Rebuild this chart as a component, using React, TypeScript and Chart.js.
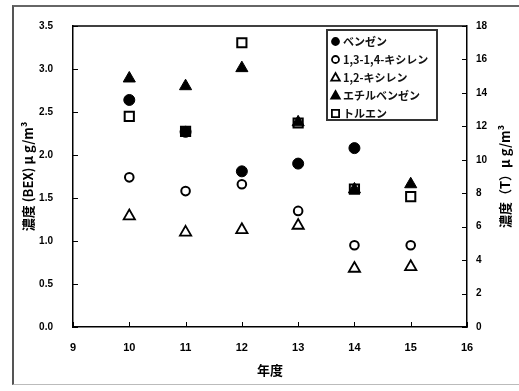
import React, { useEffect, useRef } from "react";
import { Chart, registerables } from "chart.js";

Chart.register(...registerables);

const years = [10, 11, 12, 13, 14, 15];
const benzene = [2.64, 2.27, 1.81, 1.9, 2.08, null];
const xylene1314 = [1.74, 1.58, 1.66, 1.35, 0.95, 0.95];
const xylene12 = [1.29, 1.1, 1.13, 1.18, 0.68, 0.7];
const ethylbenzene = [2.89, 2.8, 3.01, 2.38, 1.6, 1.66];
const toluene = [12.6, 11.7, 17.0, 12.2, 8.25, 7.8];

const leftTicks = [0, 0.5, 1, 1.5, 2, 2.5, 3, 3.5];
const rightTicks = [0, 2, 4, 6, 8, 10, 12, 14, 16, 18];
const xTicks = [9, 10, 11, 12, 13, 14, 15, 16];

const legendLabels = ["ベンゼン", "1,3-1,4-キシレン", "1,2-キシレン", "エチルベンゼン", "トルエン"];

const JP = '"Noto Sans CJK JP", "Liberation Sans", sans-serif';
const NUM = '"Liberation Sans", Arial, sans-serif';

function pts(vals: (number | null)[]) {
  return years.map((x, i) => ({ x, y: vals[i] as any }));
}

function drawSymbol(ctx: CanvasRenderingContext2D, style: string, filled: boolean, x: number, y: number, r: number) {
  ctx.save();
  ctx.beginPath();
  if (style === "circle") {
    ctx.arc(x, y, r, 0, Math.PI * 2);
  } else if (style === "triangle") {
    ctx.moveTo(x, y - r);
    ctx.lineTo(x + r * 0.95, y + r * 0.7);
    ctx.lineTo(x - r * 0.95, y + r * 0.7);
    ctx.closePath();
  } else {
    ctx.rect(x - r * 0.8, y - r * 0.8, r * 1.6, r * 1.6);
  }
  ctx.fillStyle = filled ? "#000" : "#fff";
  ctx.fill();
  ctx.lineWidth = 1.8;
  ctx.strokeStyle = "#000";
  ctx.stroke();
  ctx.restore();
}

const framePlugin = {
  id: "framePlugin",
  afterDraw(chart: any) {
    const ctx = chart.ctx as CanvasRenderingContext2D;
    const { left, right, top, bottom } = chart.chartArea;
    const xs = chart.scales.x;
    const yl = chart.scales.y;
    const yr = chart.scales.y2;
    ctx.save();
    ctx.strokeStyle = "#000";
    ctx.lineWidth = 1.5;
    ctx.beginPath();
    ctx.moveTo(left, top);
    ctx.lineTo(right, top);
    ctx.stroke();
    ctx.lineWidth = 1;
    ctx.beginPath();
    for (const v of leftTicks) {
      const p = Math.round(yl.getPixelForValue(v)) + 0.5;
      ctx.moveTo(left, p);
      ctx.lineTo(left + 5, p);
    }
    for (const v of rightTicks) {
      const p = Math.round(yr.getPixelForValue(v)) + 0.5;
      ctx.moveTo(right, p);
      ctx.lineTo(right - 5, p);
    }
    for (const v of xTicks) {
      const p = Math.round(xs.getPixelForValue(v)) + 0.5;
      ctx.moveTo(p, bottom);
      ctx.lineTo(p, bottom - 5);
    }
    ctx.stroke();

    // right axis title, reading bottom to top
    ctx.save();
    ctx.translate(505, (top + bottom) / 2);
    ctx.rotate(-Math.PI / 2);
    ctx.fillStyle = "#000";
    ctx.font = `bold 13px ${JP}`;
    ctx.textAlign = "center";
    ctx.textBaseline = "middle";
    ctx.fillText("濃度（T）μ g/m³", 0, 0);
    ctx.restore();

    // legend
    const bx = 327, by = 30, bw = 110, bh = 90;
    ctx.fillStyle = "#fff";
    ctx.fillRect(bx, by, bw, bh);
    ctx.lineWidth = 2;
    ctx.strokeStyle = "#333";
    ctx.strokeRect(bx, by, bw, bh);
    const styles = [
      ["circle", true],
      ["circle", false],
      ["triangle", false],
      ["triangle", true],
      ["rect", false],
    ] as [string, boolean][];
    ctx.font = `bold 11px ${JP}`;
    ctx.textAlign = "left";
    ctx.textBaseline = "middle";
    legendLabels.forEach((lab, i) => {
      const cy = 41.5 + i * 18;
      drawSymbol(ctx, styles[i][0], styles[i][1], 335.5, cy, styles[i][0] === "circle" ? 3.5 : 4.5);
      ctx.fillStyle = "#111";
      ctx.fillText(lab, 343, cy + 0.5);
    });
    ctx.restore();
  },
};

export default function App() {
  const ref = useRef<HTMLCanvasElement | null>(null);
  useEffect(() => {
    if (!ref.current) return;
    const chart = new Chart(ref.current, {
      type: "scatter",
      data: {
        datasets: [
          { label: legendLabels[0], data: pts(benzene), yAxisID: "y", pointStyle: "circle", pointRadius: 5.5, backgroundColor: "#000", borderColor: "#000", borderWidth: 1 },
          { label: legendLabels[1], data: pts(xylene1314), yAxisID: "y", pointStyle: "circle", pointRadius: 4.3, backgroundColor: "#fff", borderColor: "#000", borderWidth: 2 },
          { label: legendLabels[2], data: pts(xylene12), yAxisID: "y", pointStyle: "triangle", pointRadius: 6.5, backgroundColor: "#fff", borderColor: "#000", borderWidth: 1.8 },
          { label: legendLabels[3], data: pts(ethylbenzene), yAxisID: "y", pointStyle: "triangle", pointRadius: 7, backgroundColor: "#000", borderColor: "#000", borderWidth: 1 },
          { label: legendLabels[4], data: pts(toluene), yAxisID: "y2", pointStyle: "rect", pointRadius: 6.5, backgroundColor: "#fff", borderColor: "#000", borderWidth: 2 },
        ],
      },
      options: {
        animation: false,
        responsive: false,
        layout: { padding: { top: 26, left: 0, right: 0, bottom: 0 } },
        plugins: { legend: { display: false }, tooltip: { enabled: false } },
        scales: {
          x: {
            type: "linear",
            min: 9,
            max: 16,
            afterBuildTicks: (s: any) => { s.ticks = xTicks.map((v) => ({ value: v })); },
            afterFit: (s: any) => { s.height = 64; },
            grid: { display: false, drawTicks: false },
            border: { display: true, color: "#000", width: 1.5 },
            ticks: { color: "#000", padding: 14, font: { family: NUM, size: 11, weight: "bold" } },
            title: { display: true, text: "年度", color: "#000", padding: { top: 0, bottom: 13 }, font: { family: JP, size: 13, weight: "bold" } },
          },
          y: {
            type: "linear",
            position: "left",
            min: 0,
            max: 3.5,
            afterBuildTicks: (s: any) => { s.ticks = leftTicks.map((v) => ({ value: v })); },
            afterFit: (s: any) => { s.width = 73; },
            grid: { display: false, drawTicks: false },
            border: { display: true, color: "#000", width: 1.5 },
            ticks: { color: "#000", padding: 20, font: { family: NUM, size: 10, weight: "bold" }, callback: (v: any) => Number(v).toFixed(1) },
            title: { display: true, text: "濃度 (BEX) μ g/m³", color: "#000", padding: { top: 20, bottom: 0 }, font: { family: JP, size: 13, weight: "bold" } },
          },
          y2: {
            type: "linear",
            position: "right",
            min: 0,
            max: 18,
            afterBuildTicks: (s: any) => { s.ticks = rightTicks.map((v) => ({ value: v })); },
            afterFit: (s: any) => { s.width = 52; },
            grid: { display: false, drawTicks: false },
            border: { display: true, color: "#000", width: 1.5 },
            ticks: { color: "#000", padding: 9, font: { family: NUM, size: 10, weight: "bold" } },
          },
        },
      },
      plugins: [framePlugin],
    } as any);
    return () => chart.destroy();
  }, []);

  return (
    <div style={{ position: "absolute", left: 0, top: 0, width: 519, height: 391, background: "#fff", overflow: "hidden" }}>
      <div style={{ position: "absolute", left: 12, top: 5, width: 530, height: 377, borderLeft: "2px solid #555", borderTop: "2px solid #666", borderBottom: "1px solid #bbb" }} />
      <canvas ref={ref} width={519} height={391} style={{ position: "absolute", left: 0, top: 0 }} />
    </div>
  );
}
